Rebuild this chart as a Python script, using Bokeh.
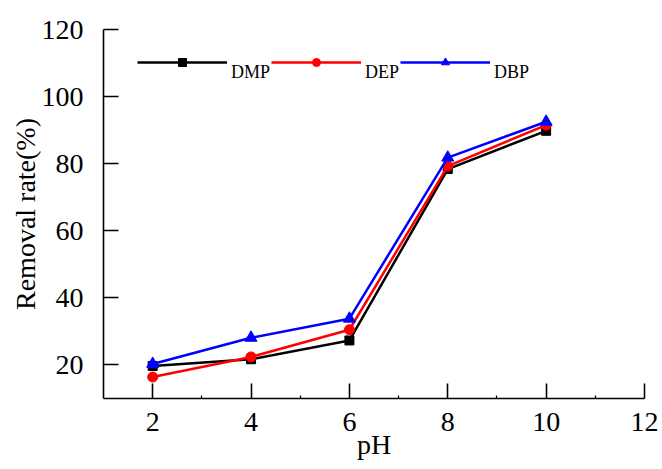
from bokeh.plotting import figure
from bokeh.models import FixedTicker, Range1d, Legend, LegendItem
from bokeh.embed import file_html
from bokeh.resources import INLINE

ph = [2, 4, 6, 8, 10]
dmp = [19.7, 21.7, 27.3, 78.4, 89.8]
dep = [16.4, 22.4, 30.5, 79.3, 91.5]
dbp = [20.3, 28.1, 33.8, 81.8, 92.5]

x_ticks = [2, 4, 6, 8, 10, 12]
x_minor = [3, 5, 7, 9, 11]
y_ticks = [20, 40, 60, 80, 100, 120]

FONT = "Liberation Serif"

p = figure(width=662, height=469, output_backend="svg", toolbar_location=None,
           x_range=Range1d(1, 12), y_range=Range1d(10, 120),
           min_border_left=103, min_border_right=18, min_border_top=29, min_border_bottom=71)
p.outline_line_color = None
p.xgrid.visible = False
p.ygrid.visible = False
p.background_fill_color = "white"
p.border_fill_color = "white"

for ax in (p.xaxis[0], p.yaxis[0]):
    ax.axis_line_width = 1.6
    ax.axis_line_color = "black"
    ax.major_tick_line_width = 1.6
    ax.major_tick_line_color = "black"
    ax.minor_tick_line_width = 1.2
    ax.major_label_text_font = FONT
    ax.major_label_text_font_size = "28px"
    ax.major_label_text_color = "black"
    ax.axis_label_text_font = FONT
    ax.axis_label_text_font_size = "28px"
    ax.axis_label_text_font_style = "normal"
    ax.axis_label_text_color = "black"
    ax.major_tick_in = 15
    ax.major_tick_out = 0

p.xaxis.ticker = FixedTicker(ticks=x_ticks, minor_ticks=x_minor)
p.xaxis.minor_tick_in = 3
p.xaxis.minor_tick_out = 0
p.xaxis.major_label_standoff = 14
p.xaxis.axis_label = "pH"
p.xaxis.axis_label_standoff = -5

p.yaxis.ticker = FixedTicker(ticks=y_ticks, minor_ticks=[])
p.yaxis.major_label_standoff = 20
p.yaxis.axis_label = "Removal rate(%)"
p.yaxis.axis_label_standoff = -2

series = [
    ("DMP", dmp, "black", "square", 9),
    ("DEP", dep, "red", "circle", 10),
    ("DBP", dbp, "blue", "triangle", 12),
]
items = []
for name, ys, color, marker, size in series:
    l = p.line(ph, ys, line_color=color, line_width=2.5)
    s = p.scatter(ph, ys, marker=marker, size=size, fill_color=color, line_color=color)
    items.append(LegendItem(label="\n" + name, renderers=[l, s]))

legend = Legend(items=items, orientation="horizontal", location=(34, 315),
                glyph_width=90, glyph_height=20, label_standoff=4, spacing=1,
                padding=0, margin=0, border_line_color=None, background_fill_alpha=0,
                label_text_font=FONT, label_text_font_size="18px",
                label_text_line_height=0.8, label_text_color="black")
p.add_layout(legend)

open("out.html", "w").write(file_html(p, INLINE))
